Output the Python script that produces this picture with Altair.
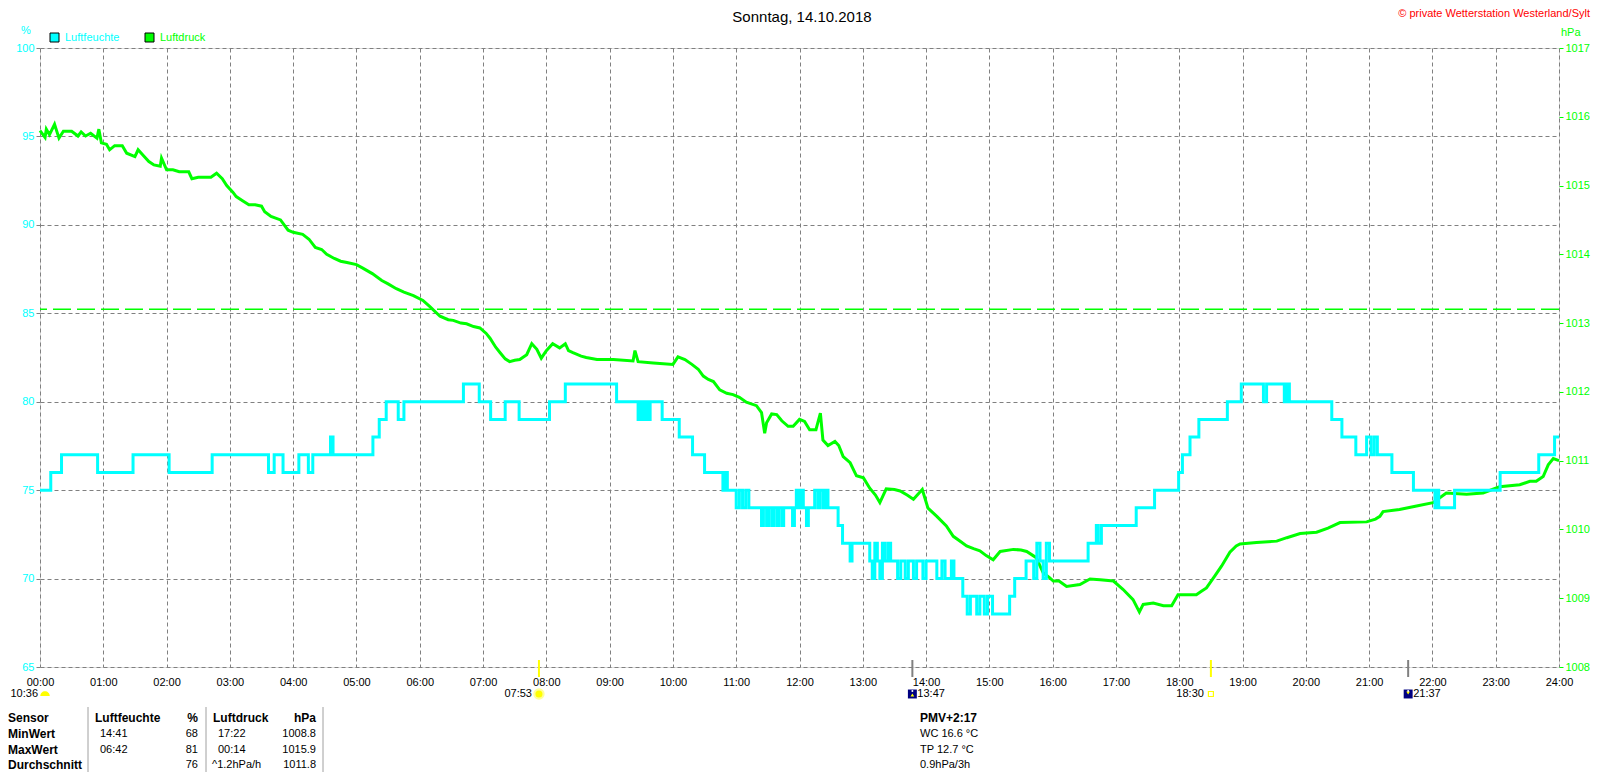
import altair as alt
import pandas as pd

# ---------------- data ----------------
P_TIME = [0.00, 0.08, 0.10, 0.15, 0.23, 0.30, 0.37, 0.50, 0.60, 0.65, 0.72, 0.80, 0.90, 0.93, 0.97,
          1.05, 1.10, 1.18, 1.30, 1.37, 1.50, 1.55, 1.65, 1.72, 1.80, 1.90, 1.92, 2.00, 2.10, 2.20,
          2.35, 2.40, 2.50, 2.60, 2.70, 2.79, 2.88, 2.95, 3.05, 3.10, 3.20, 3.30, 3.40, 3.50, 3.55,
          3.65, 3.80, 3.92, 4.00, 4.15, 4.25, 4.35, 4.45, 4.53, 4.65, 4.75, 4.85, 5.00, 5.10, 5.25,
          5.40, 5.50, 5.63, 5.75, 5.90, 6.05, 6.16, 6.32, 6.45, 6.53, 6.65, 6.74, 6.85, 6.95, 7.05,
          7.11, 7.20, 7.27, 7.35, 7.42, 7.50, 7.58, 7.69, 7.77, 7.85, 7.92, 8.00, 8.10, 8.21, 8.30,
          8.35, 8.42, 8.55, 8.63, 8.80, 9.06, 9.37, 9.40, 9.45, 9.69, 10.00, 10.08, 10.19, 10.30,
          10.40, 10.48, 10.56, 10.64, 10.74, 10.85, 10.95, 11.05, 11.16, 11.32, 11.40, 11.45, 11.48,
          11.56, 11.64, 11.72, 11.82, 11.90, 12.00, 12.08, 12.16, 12.26, 12.33, 12.37, 12.45, 12.56,
          12.62, 12.69, 12.80, 12.90, 13.01, 13.11, 13.20, 13.27, 13.37, 13.50, 13.59, 13.70, 13.80,
          13.94, 14.03, 14.17, 14.32, 14.43, 14.55, 14.64, 14.75, 14.85, 14.95, 15.06, 15.17, 15.38,
          15.50, 15.59, 15.74, 15.85, 15.95, 16.01, 16.10, 16.22, 16.43, 16.59, 16.75, 16.96, 17.11,
          17.27, 17.37, 17.43, 17.59, 17.75, 17.88, 17.98, 18.27, 18.35, 18.43, 18.56, 18.67, 18.80,
          18.90, 18.96, 19.22, 19.54, 19.70, 19.91, 20.17, 20.35, 20.54, 20.96, 21.10, 21.17, 21.22,
          21.48, 21.75, 22.01, 22.10, 22.22, 22.54, 22.80, 23.06, 23.38, 23.54, 23.64, 23.75, 23.83,
          23.91, 24.00]
P_VAL = [1015.80, 1015.70, 1015.82, 1015.74, 1015.89, 1015.69, 1015.79, 1015.79, 1015.72, 1015.78,
         1015.72, 1015.76, 1015.69, 1015.82, 1015.62, 1015.60, 1015.52, 1015.58, 1015.58, 1015.47,
         1015.42, 1015.52, 1015.42, 1015.35, 1015.30, 1015.28, 1015.40, 1015.23, 1015.23, 1015.20,
         1015.20, 1015.10, 1015.12, 1015.12, 1015.12, 1015.18, 1015.10, 1015.00, 1014.90, 1014.84,
         1014.78, 1014.72, 1014.72, 1014.70, 1014.62, 1014.55, 1014.50, 1014.35, 1014.32, 1014.29,
         1014.22, 1014.10, 1014.07, 1014.00, 1013.94, 1013.90, 1013.88, 1013.85, 1013.80, 1013.72,
         1013.62, 1013.57, 1013.50, 1013.45, 1013.40, 1013.33, 1013.24, 1013.10, 1013.05, 1013.04,
         1013.00, 1012.99, 1012.95, 1012.93, 1012.85, 1012.78, 1012.65, 1012.57, 1012.48, 1012.44,
         1012.46, 1012.47, 1012.54, 1012.70, 1012.62, 1012.49, 1012.60, 1012.70, 1012.64, 1012.70,
         1012.60, 1012.57, 1012.52, 1012.50, 1012.47, 1012.47, 1012.45, 1012.60, 1012.44, 1012.42,
         1012.40, 1012.51, 1012.47, 1012.40, 1012.33, 1012.23, 1012.18, 1012.15, 1012.03, 1011.98,
         1011.96, 1011.92, 1011.85, 1011.80, 1011.70, 1011.40, 1011.55, 1011.68, 1011.67, 1011.58,
         1011.50, 1011.50, 1011.60, 1011.57, 1011.45, 1011.45, 1011.69, 1011.30, 1011.22, 1011.28,
         1011.22, 1011.06, 1010.97, 1010.78, 1010.75, 1010.60, 1010.50, 1010.39, 1010.59, 1010.58,
         1010.56, 1010.50, 1010.44, 1010.58, 1010.31, 1010.19, 1010.05, 1009.90, 1009.82, 1009.76,
         1009.72, 1009.69, 1009.62, 1009.56, 1009.68, 1009.71, 1009.70, 1009.68, 1009.59, 1009.37,
         1009.30, 1009.25, 1009.25, 1009.17, 1009.20, 1009.28, 1009.27, 1009.25, 1009.13, 1008.98,
         1008.80, 1008.91, 1008.93, 1008.89, 1008.89, 1009.05, 1009.05, 1009.10, 1009.15, 1009.32,
         1009.47, 1009.67, 1009.76, 1009.79, 1009.81, 1009.83, 1009.88, 1009.94, 1009.96, 1010.02,
         1010.10, 1010.11, 1010.15, 1010.19, 1010.26, 1010.29, 1010.34, 1010.39, 1010.45, 1010.53,
         1010.51, 1010.53, 1010.62, 1010.65, 1010.70, 1010.70, 1010.77, 1010.94, 1011.03, 1011.00]

H_TIME = [0.00, 0.17, 0.34, 0.91, 1.47, 2.04, 2.72, 3.61, 3.70, 3.84, 4.09, 4.24, 4.31, 4.59, 4.63,
          5.26, 5.36, 5.47, 5.66, 5.75, 6.69, 6.94, 7.12, 7.35, 7.57, 8.05, 8.30, 9.11, 9.45, 9.48,
          9.52, 9.56, 9.60, 9.64, 9.83, 10.10, 10.31, 10.50, 10.79, 10.83, 10.86, 11.00, 11.05, 11.10,
          11.15, 11.20, 11.40, 11.43, 11.48, 11.51, 11.56, 11.59, 11.64, 11.67, 11.72, 11.75, 11.89,
          11.92, 11.95, 11.99, 12.02, 12.06, 12.11, 12.14, 12.24, 12.29, 12.32, 12.37, 12.41, 12.45,
          12.61, 12.68, 12.80, 12.83, 13.11, 13.15, 13.19, 13.23, 13.27, 13.31, 13.35, 13.40, 13.44,
          13.55, 13.60, 13.67, 13.72, 13.80, 13.85, 13.95, 14.00, 14.17, 14.25, 14.30, 14.40, 14.44,
          14.58, 14.65, 14.70, 14.80, 14.85, 14.92, 14.97, 15.05, 15.32, 15.40, 15.58, 15.70, 15.75,
          15.80, 15.85, 15.90, 15.95, 16.03, 16.56, 16.69, 16.72, 16.77, 17.32, 17.61, 17.99, 18.05,
          18.17, 18.31, 18.76, 18.98, 19.33, 19.38, 19.66, 19.70, 19.74, 20.41, 20.57, 20.79, 20.96,
          21.03, 21.08, 21.13, 21.36, 21.70, 22.04, 22.07, 22.10, 22.35, 23.07, 23.68, 23.93, 24.00]
H_VAL = [75, 76, 77, 76, 77, 76, 77, 76, 77, 76, 77, 76, 77, 78, 77,
         78, 79, 80, 79, 80, 81, 80, 79, 80, 79, 80, 81, 80, 79, 80,
         79, 80, 79, 80, 79, 78, 77, 76, 75, 76, 75, 74, 75, 74,
         75, 74, 73, 74, 73, 74, 73, 74, 73, 74, 73, 74, 73,
         74, 75, 74, 75, 74, 73, 74, 75, 74, 75, 74, 75, 74,
         73, 72, 71, 72, 71, 70, 72, 71, 70, 72, 71, 72, 71,
         70, 71, 70, 71, 70, 71, 70, 71, 70, 71, 70, 71, 70,
         69, 68, 69, 68, 69, 68, 69, 68, 69, 70, 71, 70, 72,
         71, 70, 72, 71, 71, 72, 73, 72, 73, 74, 75, 76, 77,
         78, 79, 80, 81, 80, 81, 80, 81, 80, 79, 78, 77, 78,
         77, 78, 77, 76, 75, 74, 75, 74, 75, 76, 77, 78, 78]

HOURS = list(range(25))
HUM_TICKS = [65, 70, 75, 80, 85, 90, 95, 100]
PRES_TICKS = [1008, 1009, 1010, 1011, 1012, 1013, 1014, 1015, 1016, 1017]
REF_PRESSURE = [1013.2]

TITLE = "Sonntag, 14.10.2018"
COPYRIGHT = "© private Wetterstation Westerland/Sylt"
LEGEND = ["Luftfeuchte", "Luftdruck"]
UNIT_LEFT = "%"
UNIT_RIGHT = "hPa"
DAYLIGHT = "10:36"
SUN_TIMES = [7 + 53 / 60, 18.5]
SUN_LABELS = ["07:53", "18:30"]
MOON_TIMES = [13 + 47 / 60, 21 + 37 / 60]
MOON_LABELS = ["13:47", "21:37"]
TABLE_HEADER = ["Sensor", "Luftfeuchte", "%", "Luftdruck", "hPa"]
TABLE_ROWS = [["MinWert", "14:41", "68", "17:22", "1008.8"],
              ["MaxWert", "06:42", "81", "00:14", "1015.9"],
              ["Durchschnitt", "", "76", "^1.2hPa/h", "1011.8"]]
PMV_LINES = ["PMV+2:17", "WC 16.6 °C", "TP 12.7 °C", "0.9hPa/3h"]

# ---------------- style ----------------
FONT = "Liberation Sans"
CYAN = "#00FFFF"
GREEN = "#00FF00"
GRAY = "#808080"
W, H = 1519, 619

pdf = pd.DataFrame({"t": P_TIME, "p": P_VAL})
hdf = pd.DataFrame({"t": H_TIME, "h": H_VAL})
BASE = pd.DataFrame({"k": [0]})

X = alt.X("t:Q", scale=alt.Scale(domain=[0, 24], nice=False, zero=False),
          axis=alt.Axis(values=HOURS, labelExpr="(datum.value < 10 ? '0' : '') + datum.value + ':00'",
                        grid=True, gridDash=[4, 3], gridColor=GRAY, gridOpacity=1, gridWidth=1,
                        domain=False, ticks=False, labelPadding=9, labelFontSize=11,
                        labelColor="black", labelFont=FONT, title=None, labelFlush=False))

p_line = alt.Chart(pdf).mark_line(color=GREEN, strokeWidth=3).encode(
    x=X,
    y=alt.Y("p:Q", scale=alt.Scale(domain=[1008, 1017], nice=False, zero=False),
            axis=alt.Axis(orient="right", values=PRES_TICKS, grid=False, domain=False,
                          tickColor=GREEN, tickSize=4, labelPadding=2, labelColor=GREEN,
                          labelFontSize=11, labelFont=FONT, title=None, format="d")))
p_ref = alt.Chart(pd.DataFrame({"p": REF_PRESSURE})).mark_rule(
    color=GREEN, strokeDash=[18, 6], strokeWidth=1.5).encode(y="p:Q")
pres = alt.layer(p_line, p_ref)

h_line = alt.Chart(hdf).mark_line(color=CYAN, strokeWidth=3, interpolate="step-after").encode(
    x=X,
    y=alt.Y("h:Q", scale=alt.Scale(domain=[65, 100], nice=False, zero=False),
            axis=alt.Axis(orient="left", values=HUM_TICKS, grid=True, gridDash=[4, 3],
                          gridColor=GRAY, gridOpacity=1, domain=False, tickColor=GRAY,
                          tickSize=4, labelPadding=2, labelColor=CYAN, labelFontSize=11,
                          labelFont=FONT, title=None)))


def label(s, x, y, size=11, weight="normal", color="black", align="left"):
    return alt.Chart(BASE).mark_text(text=s, fontSize=size, fontWeight=weight, color=color,
                                     align=align, baseline="middle", font=FONT).encode(
        x=alt.value(x), y=alt.value(y))


layers = [pres, h_line]

# event ticks on the time axis
sun_df = pd.DataFrame({"t": SUN_TIMES, "lab": SUN_LABELS})
moon_df = pd.DataFrame({"t": MOON_TIMES, "lab": MOON_LABELS})
layers.append(alt.Chart(sun_df).mark_rule(color="#FFFF00", strokeWidth=2).encode(
    x=X, y=alt.value(612), y2=alt.value(629)))
layers.append(alt.Chart(moon_df).mark_rule(color=GRAY, strokeWidth=2).encode(
    x=X, y=alt.value(612), y2=alt.value(629)))

ROW_Y = 646
# sunrise / sunset
layers.append(alt.Chart(sun_df).mark_text(align="right", baseline="middle", dx=-7, fontSize=11,
                                          font=FONT, color="black").encode(
    x=X, y=alt.value(ROW_Y), text="lab:N"))
layers.append(alt.Chart(sun_df.iloc[[0]]).mark_point(shape="circle", filled=True, size=130,
                                                     color="#FFFF99", opacity=1).encode(
    x=X, y=alt.value(ROW_Y)))
layers.append(alt.Chart(sun_df.iloc[[0]]).mark_point(shape="circle", filled=True, size=50,
                                                     color="#FFFF00", opacity=1).encode(
    x=X, y=alt.value(ROW_Y)))
layers.append(alt.Chart(sun_df.iloc[[1]]).mark_point(shape="square", filled=False, size=25,
                                                     color="#FFFF00", strokeWidth=1.2, opacity=1).encode(
    x=X, y=alt.value(ROW_Y)))
# moonrise / moonset
layers.append(alt.Chart(moon_df).mark_text(align="left", baseline="middle", dx=5, fontSize=11,
                                           font=FONT, color="black").encode(
    x=X, y=alt.value(ROW_Y), text="lab:N"))
layers.append(alt.Chart(moon_df).mark_point(shape="square", filled=True, size=80,
                                            color="#000080", opacity=1).encode(
    x=X, y=alt.value(ROW_Y)))
layers.append(alt.Chart(moon_df.iloc[[0]]).mark_point(shape="triangle-up", filled=True, size=14,
                                                      color="#FFFF00", opacity=1).encode(
    x=X, y=alt.value(ROW_Y + 1)))
layers.append(alt.Chart(moon_df.iloc[[1]]).mark_point(shape="triangle-down", filled=True, size=14,
                                                      color="#FFFF00", opacity=1).encode(
    x=X, y=alt.value(ROW_Y - 1)))
layers.append(alt.Chart(moon_df).mark_point(shape="circle", filled=True, size=4,
                                            color="white", opacity=1, dx=-2).encode(
    x=X, y=alt.value(ROW_Y - 3)))
# daylight length with half sun
layers.append(label(DAYLIGHT, -2, ROW_Y, align="right"))
layers.append(alt.Chart(BASE).mark_point(shape="M -1 0.4 A 1 1 0 0 1 1 0.4 Z", filled=True,
                                         size=90, color="#FFFF00", opacity=1).encode(
    x=alt.value(5), y=alt.value(ROW_Y)))

# title, copyright, units, legend
layers.append(label(TITLE, 762, -31, size=15, align="center"))
layers.append(label(COPYRIGHT, 1550, -34, size=11, color="#FF0000", align="right"))
layers.append(label(UNIT_LEFT, -14, -17, color=CYAN, align="center"))
layers.append(label(UNIT_RIGHT, 1521, -15, color=GREEN))
for i, (name, col) in enumerate(zip(LEGEND, [CYAN, GREEN])):
    x0 = 14.5 + i * 95
    layers.append(alt.Chart(BASE).mark_point(shape="square", filled=True, size=81, fill=col,
                                             stroke="black", strokeWidth=1, opacity=1).encode(
        x=alt.value(x0), y=alt.value(-10.5)))
    layers.append(label(name, x0 + 10.5, -10.5, color=col))

# statistics table
TAB_Y = [670, 686, 702, 717]
COL_X = [(-32, "left"), (60, "left"), (158, "right"), (178, "left"), (276, "right")]
HEAD_X = [(-32, "left"), (55, "left"), (158, "right"), (173, "left"), (276, "right")]
for j, s in enumerate(TABLE_HEADER):
    x, al = HEAD_X[j]
    layers.append(label(s, x, TAB_Y[0], size=12, weight="bold", align=al))
for r, row in enumerate(TABLE_ROWS):
    for j, s in enumerate(row):
        if not s:
            continue
        x, al = COL_X[j]
        if s.startswith("^"):
            x -= 6
        layers.append(label(s, x, TAB_Y[r + 1], size=12 if j == 0 else 11,
                            weight="bold" if j == 0 else "normal", align=al))
for xv in [48, 166, 283]:
    layers.append(alt.Chart(BASE).mark_rule(color="#A0A0A0", strokeWidth=1).encode(
        x=alt.value(xv), y=alt.value(659), y2=alt.value(740)))
for r, s in enumerate(PMV_LINES):
    layers.append(label(s, 880, TAB_Y[r], size=12 if r == 0 else 11,
                        weight="bold" if r == 0 else "normal"))

chart = alt.layer(*layers).resolve_scale(y="independent").properties(
    width=W, height=H,
    padding={"left": 32, "top": 40, "right": 33, "bottom": 105},
    autosize=alt.AutoSizeParams(type="none"),
).configure_view(stroke=GRAY, strokeWidth=2).configure(font=FONT, background="white")

chart.save("out.html", embed_options={"renderer": "svg", "actions": False})
